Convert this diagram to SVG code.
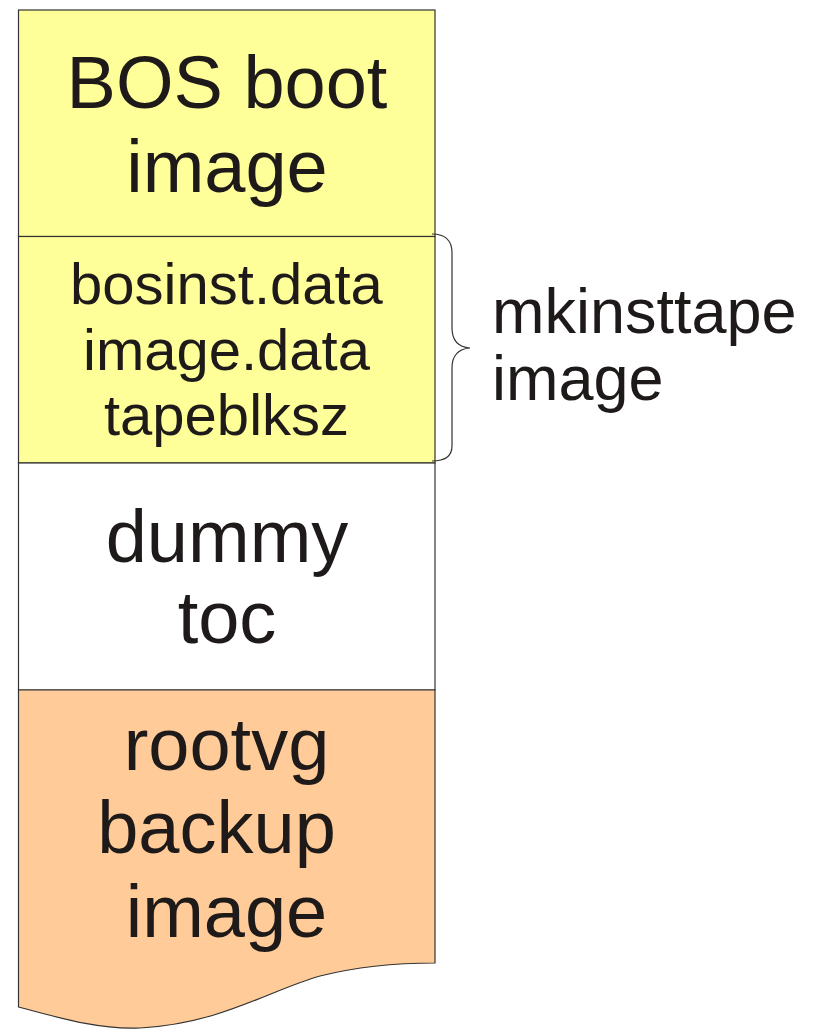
<svg xmlns="http://www.w3.org/2000/svg" width="819" height="1029" viewBox="0 0 819 1029">
<style>
.box{stroke:#333;stroke-width:1.2}
.t{font-family:"Liberation Sans",Arial,sans-serif;fill:#1f1a1a;text-anchor:middle}
.big{font-size:74px}
.mid{font-size:58px}
</style>
<rect width="819" height="1029" fill="#fff"/>
<g id="bos">
<rect class="box" x="18.5" y="10" width="416.5" height="226.5" fill="#ffff99"/>
<text class="t big" x="227" y="108">BOS boot</text>
<text class="t big" x="227" y="192">image</text>
</g>
<g id="mkdata">
<rect class="box" x="18.5" y="236.5" width="416.5" height="226.5" fill="#ffff99"/>
<text class="t mid" x="226.5" y="304">bosinst.data</text>
<text class="t mid" x="226.5" y="370">image.data</text>
<text class="t mid" x="226.5" y="435">tapeblksz</text>
</g>
<g id="dummy">
<rect class="box" x="18.5" y="463" width="416.5" height="227" fill="#ffffff"/>
<text class="t big" x="227" y="562">dummy</text>
<text class="t big" x="227" y="643">toc</text>
</g>
<g id="rootvg">
<path class="box" d="M18.5,690 L435,690 L435,963 C400,963 360,966 320,976 C270,990 220,1024 140,1028 C100,1030 60,1018 18.5,1007 Z" fill="#ffcc99"/>
<text class="t big" x="226.5" y="770">rootvg</text>
<text class="t big" x="216.5" y="853">backup</text>
<text class="t big" x="226.5" y="937">image</text>
</g>
<g id="connectors">
<path d="M432,234 C445,234 452,240 452,253 L452,328 C452,340 458,347 470,348 C458,349 452,356 452,368 L452,446 C452,456 445,461 432,461" fill="none" stroke="#333" stroke-width="1.2"/>
</g>
<g id="label">
<text class="t" x="492" y="333" style="text-anchor:start;font-size:63px">mkinsttape</text>
<text class="t" x="492" y="400" style="text-anchor:start;font-size:63px">image</text>
</g>
</svg>
